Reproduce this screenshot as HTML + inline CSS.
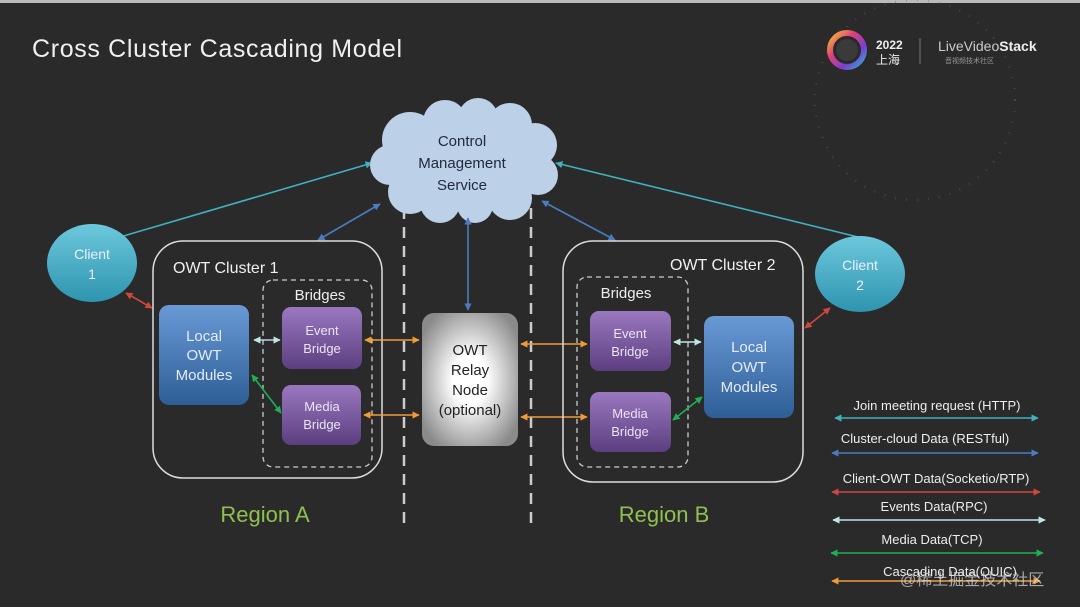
<!DOCTYPE html>
<html><head><meta charset="utf-8"><style>
html,body{margin:0;padding:0;background:#2a2a2a;}
svg{display:block}
text{font-family:"Liberation Sans","Noto Sans CJK SC",sans-serif;}
</style></head><body>
<svg width="1080" height="607" viewBox="0 0 1080 607" xmlns="http://www.w3.org/2000/svg">
<defs>
<linearGradient id="blue" x1="0" y1="0" x2="0" y2="1"><stop offset="0" stop-color="#6a9ad6"/><stop offset="1" stop-color="#2e5e96"/></linearGradient>
<linearGradient id="purp" x1="0" y1="0" x2="0" y2="1"><stop offset="0" stop-color="#9a78c0"/><stop offset="1" stop-color="#5c3f80"/></linearGradient>
<linearGradient id="cli" x1="0" y1="0" x2="0" y2="1"><stop offset="0" stop-color="#6cc8dc"/><stop offset="1" stop-color="#2e94b0"/></linearGradient>
<radialGradient id="relay" cx="0.5" cy="0.5" r="0.6"><stop offset="0.3" stop-color="#ffffff"/><stop offset="1" stop-color="#8a8a8a"/></radialGradient>
<linearGradient id="ring" x1="0" y1="0" x2="1" y2="1"><stop offset="0" stop-color="#f2c230"/><stop offset="0.35" stop-color="#e0407a"/><stop offset="0.7" stop-color="#7a3fd0"/><stop offset="1" stop-color="#30b0d0"/></linearGradient>
<marker id="ac" viewBox="0 0 10 10" refX="9" refY="5" markerWidth="4.5" markerHeight="4.5" orient="auto-start-reverse"><path d="M0,0L10,5L0,10z" fill="#3fb2c0"/></marker>
<marker id="ab" viewBox="0 0 10 10" refX="9" refY="5" markerWidth="4.5" markerHeight="4.5" orient="auto-start-reverse"><path d="M0,0L10,5L0,10z" fill="#4a7cc0"/></marker>
<marker id="ar" viewBox="0 0 10 10" refX="9" refY="5" markerWidth="4.5" markerHeight="4.5" orient="auto-start-reverse"><path d="M0,0L10,5L0,10z" fill="#d0473f"/></marker>
<marker id="aw" viewBox="0 0 10 10" refX="9" refY="5" markerWidth="4.5" markerHeight="4.5" orient="auto-start-reverse"><path d="M0,0L10,5L0,10z" fill="#bfe6e6"/></marker>
<marker id="ag" viewBox="0 0 10 10" refX="9" refY="5" markerWidth="4.5" markerHeight="4.5" orient="auto-start-reverse"><path d="M0,0L10,5L0,10z" fill="#1fb055"/></marker>
<marker id="ao" viewBox="0 0 10 10" refX="9" refY="5" markerWidth="4.5" markerHeight="4.5" orient="auto-start-reverse"><path d="M0,0L10,5L0,10z" fill="#f29a3a"/></marker>
</defs>
<rect width="1080" height="607" fill="#2a2a2a"/>
<rect width="1080" height="3" fill="#bbb"/>
<circle cx="915" cy="100" r="100" fill="none" stroke="#666" stroke-width="2.5" stroke-dasharray="1 10" opacity="0.45"/>
<text x="32" y="57" font-size="25" fill="#f0f0f0" textLength="370">Cross Cluster Cascading Model</text>
<circle cx="847" cy="50" r="17" fill="none" stroke="url(#ring)" stroke-width="6"/>
<circle cx="847" cy="50" r="11" fill="#3a3a3a"/>
<text x="876" y="49" font-size="12" font-weight="bold" fill="#eee">2022</text>
<text x="876" y="64" font-size="12" fill="#eee">上海</text>
<line x1="920" y1="38" x2="920" y2="64" stroke="#777"/>
<text x="938" y="51" font-size="14" fill="#ccc">LiveVideo<tspan font-weight="bold" fill="#eee">Stack</tspan></text>
<text x="945" y="63" font-size="7" fill="#999">音视频技术社区</text>
<line x1="404" y1="208" x2="404" y2="528" stroke="#ccc" stroke-width="2.5" stroke-dasharray="11 8"/>
<line x1="531" y1="208" x2="531" y2="528" stroke="#ccc" stroke-width="2.5" stroke-dasharray="11 8"/>
<line x1="120" y1="237" x2="372" y2="163" stroke="#3fb2c0" stroke-width="1.6" marker-end="url(#ac)"/>
<line x1="858" y1="237" x2="556" y2="163" stroke="#3fb2c0" stroke-width="1.6" marker-end="url(#ac)"/>
<g fill="#bcd0e8">
<ellipse cx="463" cy="162" rx="82" ry="50"/>
<circle cx="410" cy="140" r="28"/><circle cx="445" cy="122" r="22"/><circle cx="478" cy="118" r="20"/><circle cx="510" cy="125" r="22"/><circle cx="535" cy="145" r="22"/>
<circle cx="390" cy="165" r="20"/><circle cx="538" cy="175" r="20"/><circle cx="410" cy="192" r="22"/><circle cx="440" cy="203" r="20"/><circle cx="475" cy="205" r="18"/><circle cx="510" cy="198" r="22"/>
</g>
<text font-size="15" fill="#1e2a3a" text-anchor="middle"><tspan x="462" y="146">Control</tspan><tspan x="462" y="168">Management</tspan><tspan x="462" y="190">Service</tspan></text>
<line x1="318" y1="240" x2="380" y2="204" stroke="#4a7cc0" stroke-width="1.6" marker-start="url(#ab)" marker-end="url(#ab)"/>
<line x1="468" y1="310" x2="468" y2="218" stroke="#4a7cc0" stroke-width="1.6" marker-start="url(#ab)" marker-end="url(#ab)"/>
<line x1="615" y1="240" x2="542" y2="201" stroke="#4a7cc0" stroke-width="1.6" marker-start="url(#ab)" marker-end="url(#ab)"/>
<ellipse cx="92" cy="263" rx="45" ry="39" fill="url(#cli)"/>
<text font-size="14" fill="#eef" text-anchor="middle"><tspan x="92" y="259">Client</tspan><tspan x="92" y="279">1</tspan></text>
<ellipse cx="860" cy="274" rx="45" ry="38" fill="url(#cli)"/>
<text font-size="14" fill="#eef" text-anchor="middle"><tspan x="860" y="270">Client</tspan><tspan x="860" y="290">2</tspan></text>
<line x1="126" y1="293" x2="152" y2="308" stroke="#d0473f" stroke-width="1.6" marker-start="url(#ar)" marker-end="url(#ar)"/>
<line x1="805" y1="328" x2="830" y2="308" stroke="#d0473f" stroke-width="1.6" marker-start="url(#ar)" marker-end="url(#ar)"/>
<rect x="153" y="241" width="229" height="237" rx="30" fill="none" stroke="#ddd" stroke-width="1.5"/>
<text x="173" y="273" font-size="16" fill="#f0f0f0">OWT Cluster 1</text>
<rect x="263" y="280" width="109" height="187" rx="10" fill="none" stroke="#ccc" stroke-width="1.3" stroke-dasharray="5 4"/>
<text x="320" y="300" font-size="15" fill="#eee" text-anchor="middle">Bridges</text>
<rect x="159" y="305" width="90" height="100" rx="10" fill="url(#blue)"/>
<text font-size="15" fill="#e4ecf8" text-anchor="middle"><tspan x="204" y="341">Local</tspan><tspan x="204" y="360">OWT</tspan><tspan x="204" y="380">Modules</tspan></text>
<rect x="282" y="307" width="80" height="62" rx="9" fill="url(#purp)"/>
<text font-size="13" fill="#ece4f6" text-anchor="middle"><tspan x="322" y="335">Event</tspan><tspan x="322" y="353">Bridge</tspan></text>
<rect x="282" y="385" width="79" height="60" rx="9" fill="url(#purp)"/>
<text font-size="13" fill="#ece4f6" text-anchor="middle"><tspan x="322" y="411">Media</tspan><tspan x="322" y="429">Bridge</tspan></text>
<line x1="254" y1="340" x2="280" y2="340" stroke="#bfd0e6" stroke-width="1.6" marker-start="url(#aw)" marker-end="url(#aw)"/>
<line x1="252" y1="375" x2="281" y2="413" stroke="#1fb055" stroke-width="1.6" marker-start="url(#ag)" marker-end="url(#ag)"/>
<rect x="422" y="313" width="96" height="133" rx="12" fill="url(#relay)"/>
<text font-size="15" fill="#222" text-anchor="middle"><tspan x="470" y="355">OWT</tspan><tspan x="470" y="375">Relay</tspan><tspan x="470" y="395">Node</tspan><tspan x="470" y="415">(optional)</tspan></text>
<g stroke="#f29a3a" stroke-width="1.6">
<line x1="365" y1="340" x2="419" y2="340" marker-start="url(#ao)" marker-end="url(#ao)"/>
<line x1="364" y1="415" x2="419" y2="415" marker-start="url(#ao)" marker-end="url(#ao)"/>
<line x1="521" y1="344" x2="587" y2="344" marker-start="url(#ao)" marker-end="url(#ao)"/>
<line x1="521" y1="417" x2="587" y2="417" marker-start="url(#ao)" marker-end="url(#ao)"/>
</g>
<rect x="563" y="241" width="240" height="241" rx="30" fill="none" stroke="#ddd" stroke-width="1.5"/>
<text x="670" y="270" font-size="16" fill="#f0f0f0">OWT Cluster 2</text>
<rect x="577" y="277" width="111" height="190" rx="10" fill="none" stroke="#ccc" stroke-width="1.3" stroke-dasharray="5 4"/>
<text x="626" y="298" font-size="15" fill="#eee" text-anchor="middle">Bridges</text>
<rect x="590" y="311" width="81" height="60" rx="9" fill="url(#purp)"/>
<text font-size="13" fill="#ece4f6" text-anchor="middle"><tspan x="630" y="338">Event</tspan><tspan x="630" y="356">Bridge</tspan></text>
<rect x="590" y="392" width="81" height="60" rx="9" fill="url(#purp)"/>
<text font-size="13" fill="#ece4f6" text-anchor="middle"><tspan x="630" y="418">Media</tspan><tspan x="630" y="436">Bridge</tspan></text>
<rect x="704" y="316" width="90" height="102" rx="10" fill="url(#blue)"/>
<text font-size="15" fill="#e4ecf8" text-anchor="middle"><tspan x="749" y="352">Local</tspan><tspan x="749" y="372">OWT</tspan><tspan x="749" y="392">Modules</tspan></text>
<line x1="674" y1="342" x2="701" y2="342" stroke="#bfe6e6" stroke-width="1.6" marker-start="url(#aw)" marker-end="url(#aw)"/>
<line x1="673" y1="420" x2="702" y2="397" stroke="#1fb055" stroke-width="1.6" marker-start="url(#ag)" marker-end="url(#ag)"/>
<text x="265" y="522" font-size="22" fill="#8fc04f" text-anchor="middle">Region A</text>
<text x="664" y="522" font-size="22" fill="#8fc04f" text-anchor="middle">Region B</text>
<g font-size="13" fill="#eee" text-anchor="middle">
<text x="937" y="410">Join meeting request (HTTP)</text>
<text x="925" y="443">Cluster-cloud Data (RESTful)</text>
<text x="936" y="483">Client-OWT Data(Socketio/RTP)</text>
<text x="934" y="511">Events Data(RPC)</text>
<text x="932" y="544">Media Data(TCP)</text>
<text x="950" y="576">Cascading Data(QUIC)</text>
</g>
<line x1="835" y1="418" x2="1038" y2="418" stroke="#3fb2c0" stroke-width="1.6" marker-start="url(#ac)" marker-end="url(#ac)"/>
<line x1="832" y1="453" x2="1038" y2="453" stroke="#4a7cc0" stroke-width="1.6" marker-start="url(#ab)" marker-end="url(#ab)"/>
<line x1="832" y1="492" x2="1040" y2="492" stroke="#d0473f" stroke-width="1.6" marker-start="url(#ar)" marker-end="url(#ar)"/>
<line x1="833" y1="520" x2="1045" y2="520" stroke="#bfe6e6" stroke-width="1.6" marker-start="url(#aw)" marker-end="url(#aw)"/>
<line x1="831" y1="553" x2="1043" y2="553" stroke="#1fb055" stroke-width="1.6" marker-start="url(#ag)" marker-end="url(#ag)"/>
<line x1="832" y1="581" x2="1040" y2="581" stroke="#f29a3a" stroke-width="1.6" marker-start="url(#ao)" marker-end="url(#ao)"/>
<text x="900" y="585" font-size="16" fill="#ddd" opacity="0.7">@稀土掘金技术社区</text>
</svg>
</body></html>
